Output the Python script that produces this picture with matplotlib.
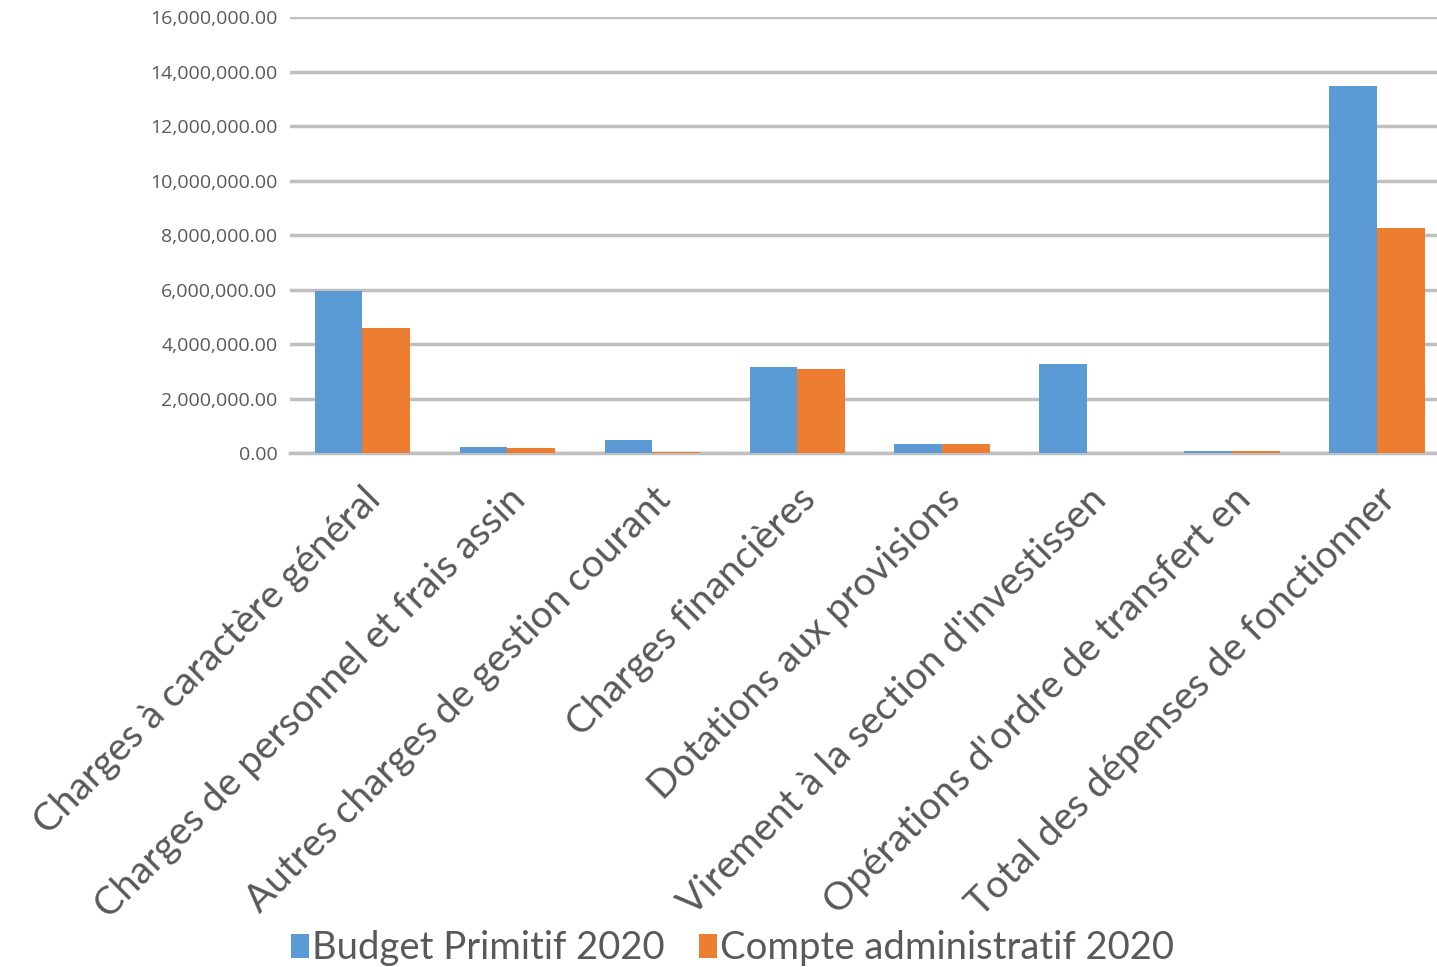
import numpy as np
import matplotlib
matplotlib.use('Agg')
from matplotlib import pyplot as plt
from matplotlib.ticker import FuncFormatter

# data
categories = ["Charges à caractère général",
              "Charges de personnel et frais assin",
              "Autres charges de gestion courant",
              "Charges financières",
              "Dotations aux provisions",
              "Virement à la section d'investissen",
              "Opérations d'ordre de transfert en",
              "Total des dépenses de fonctionner"]
budget_primitif = [5940000, 220000, 480000, 3160000, 330000, 3270000, 70000, 13470000]
compte_admin = [4590000, 180000, 40000, 3080000, 330000, 0, 60000, 8260000]
series_names = ["Budget Primitif 2020", "Compte administratif 2020"]

plt.rcParams['font.family'] = ['Lato', 'DejaVu Sans']

fig = plt.figure(figsize=(14.37, 9.67), dpi=100)
ax = fig.add_axes([0.2018, 0.5315, 0.807, 0.4509])

x = np.arange(len(categories))
w = 0.33
ax.bar(x - w/2, budget_primitif, w, color='#5b9bd5', label=series_names[0], zorder=3)
ax.bar(x + w/2, compte_admin, w, color='#ed7d31', label=series_names[1], zorder=3)

ax.set_xlim(-0.5, len(categories) - 0.5)
ax.set_ylim(0, 16000000)
ax.set_yticks(np.arange(0, 16000001, 2000000))
ax.yaxis.set_major_formatter(FuncFormatter(lambda v, p: f"{v:,.2f}"))
ax.grid(axis='y', color='#bfbfbf', linewidth=2.5, zorder=0)
ax.set_axisbelow(True)
for s in ['top', 'right', 'left']:
    ax.spines[s].set_visible(False)
ax.spines['bottom'].set_color('#bfbfbf')
ax.spines['bottom'].set_linewidth(2.5)
ax.tick_params(axis='y', length=0, pad=9, labelsize=14, labelcolor='#595959')
for t in ax.get_yticklabels():
    t.set_fontfamily(['Open Sans', 'DejaVu Sans'])
ax.tick_params(axis='x', length=0, pad=20)
ax.set_xticks(x)
ax.set_xticklabels(categories, rotation=45, ha='right', rotation_mode='anchor',
                   fontsize=28, color='#595959')

fig.legend(loc='lower center', bbox_to_anchor=(0.51, -0.035), ncol=2, frameon=False,
           fontsize=27.5, labelcolor='#595959', handlelength=0.45, handleheight=0.6,
           handletextpad=0.1, columnspacing=0.9)

fig.savefig('out.png', dpi=100)
